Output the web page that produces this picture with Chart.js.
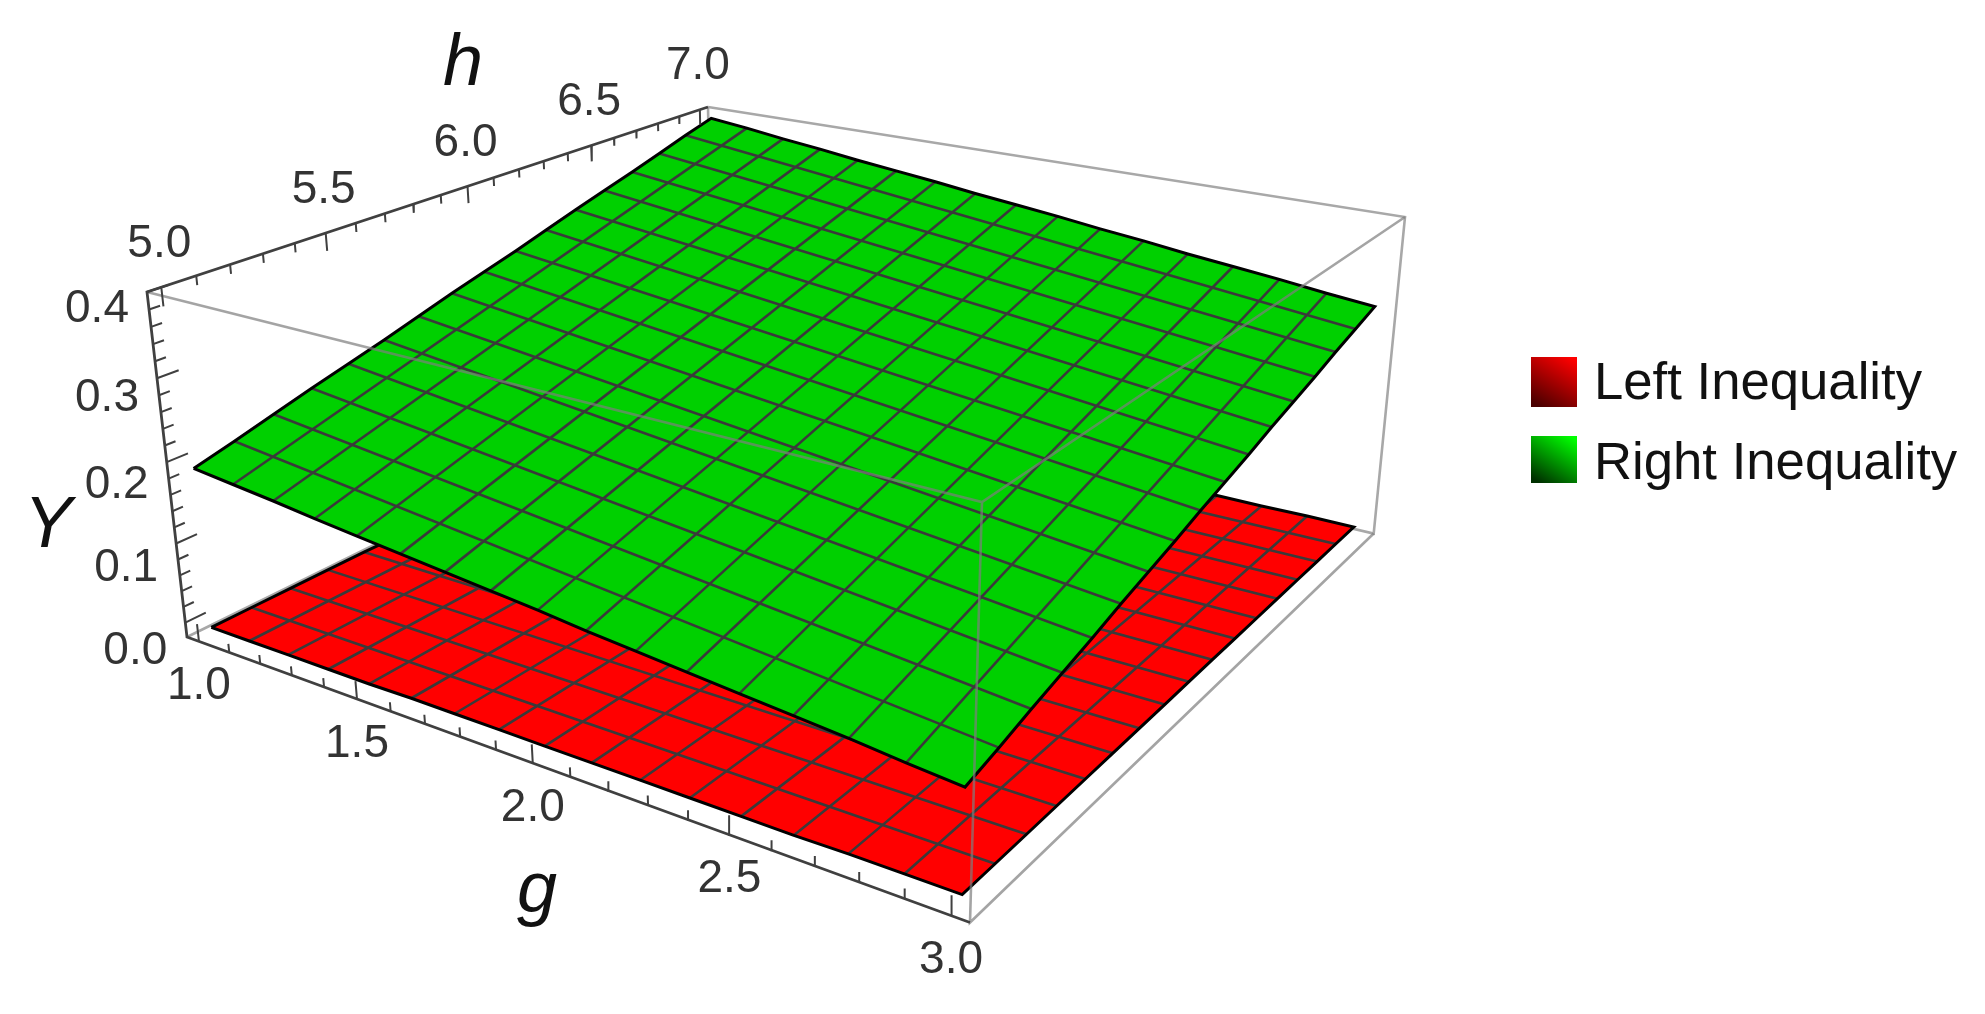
<!DOCTYPE html>
<html>
<head>
<meta charset="utf-8">
<title>Left and Right Inequality</title>
<script src="https://cdn.jsdelivr.net/npm/chart.js@4"></script>
<style>
  html, body { margin: 0; padding: 0; background: #fff; }
  canvas { display: block; filter: blur(0.6px); }
</style>
</head>
<body>
<canvas id="surfaceChart" width="1985" height="1014"></canvas>
<script>
// series names
var seriesNames = ['Left Inequality', 'Right Inequality'];

// mesh positions along both inputs
var meshG = [1, 1.125, 1.25, 1.375, 1.5, 1.625, 1.75, 1.875, 2, 2.125, 2.25, 2.375, 2.5, 2.625, 2.75, 2.875, 3];
var meshH = [5, 5.125, 5.25, 5.375, 5.5, 5.625, 5.75, 5.875, 6, 6.125, 6.25, 6.375, 6.5, 6.625, 6.75, 6.875, 7];

var greenAtH5 = [0.190, 0.185, 0.180, 0.174, 0.169, 0.164, 0.159, 0.154, 0.149, 0.143, 0.138, 0.133, 0.128, 0.123, 0.118, 0.112, 0.107];
var greenAtH7 = [0.390, 0.384, 0.377, 0.371, 0.364, 0.358, 0.352, 0.345, 0.339, 0.333, 0.326, 0.320, 0.313, 0.307, 0.301, 0.294, 0.288];
var greenAtG1 = [0.190, 0.202, 0.215, 0.228, 0.240, 0.252, 0.265, 0.278, 0.290, 0.302, 0.315, 0.328, 0.340, 0.352, 0.365, 0.378, 0.390];
var greenAtG3 = [0.107, 0.118, 0.130, 0.141, 0.152, 0.164, 0.175, 0.186, 0.198, 0.209, 0.220, 0.232, 0.243, 0.254, 0.266, 0.277, 0.288];
var redAtH5 = [-0.009, -0.009, -0.009, -0.009, -0.009, -0.008, -0.008, -0.008, -0.008, -0.008, -0.008, -0.008, -0.008, -0.008, -0.007, -0.007, -0.007];
var redAtH7 = [-0.011, -0.011, -0.011, -0.010, -0.010, -0.010, -0.010, -0.009, -0.009, -0.009, -0.009, -0.008, -0.008, -0.008, -0.008, -0.007, -0.007];
var redAtG1 = [-0.009, -0.009, -0.009, -0.009, -0.009, -0.010, -0.010, -0.010, -0.010, -0.010, -0.010, -0.010, -0.010, -0.011, -0.011, -0.011, -0.011];
var redAtG3 = [-0.007, -0.007, -0.007, -0.007, -0.007, -0.007, -0.007, -0.007, -0.007, -0.007, -0.007, -0.007, -0.007, -0.007, -0.007, -0.007, -0.007];

// tick values and labels
var gTicks = [1, 1.5, 2, 2.5, 3];
var hTicks = [5, 5.5, 6, 6.5, 7];
var yTicks = [0, 0.1, 0.2, 0.3, 0.4];
var gMinor = [1.1, 1.2, 1.3, 1.4, 1.6, 1.7, 1.8, 1.9, 2.1, 2.2, 2.3, 2.4, 2.6, 2.7, 2.8, 2.9];
var hMinor = [5.1, 5.2, 5.3, 5.4, 5.6, 5.7, 5.8, 5.9, 6.1, 6.2, 6.3, 6.4, 6.6, 6.7, 6.8, 6.9];
var yMinor = [0.02, 0.04, 0.06, 0.08, 0.12, 0.14, 0.16, 0.18, 0.22, 0.24, 0.26, 0.28, 0.32, 0.34, 0.36, 0.38];
var gLabels = ['1.0', '1.5', '2.0', '2.5', '3.0'];
var hLabels = ['5.0', '5.5', '6.0', '6.5', '7.0'];
var yLabels = ['0.0', '0.1', '0.2', '0.3', '0.4'];

// box limits
var gLo = 0.96, gHi = 3.04, hLo = 4.96, hHi = 7.04, yLo = -0.0186, yHi = 0.4;

// viewing projection of the unit box (across g, across h, down from the top)
var camera = [
    [616.63, 796.73, 51.78, 147],
    [98.37, -149.37, 385.13, 292],
    [-0.22237, 0.33295, 0.063, 1]
];

function project(g, h, y) {
    var v = [(g - gLo) / (gHi - gLo), (h - hLo) / (hHi - hLo), (yHi - y) / (yHi - yLo), 1];
    var r = camera.map(function(row) {
        return row[0] * v[0] + row[1] * v[1] + row[2] * v[2] + row[3] * v[3];
    });
    return { x: r[0] / r[2], y: r[1] / r[2] };
}

var GAP = { x: NaN, y: NaN };

// list of [g, h, y] pieces -> points with gaps between them
function pieces(list) {
    var out = [];
    list.forEach(function(piece) {
        piece.forEach(function(p) { out.push(project(p[0], p[1], p[2])); });
        out.push(GAP);
    });
    return out;
}

function outline(atH5, atH7, atG1, atG3) {
    var pts = [];
    meshG.forEach(function(g, i) { pts.push([g, 5, atH5[i]]); });
    meshH.forEach(function(h, i) { pts.push([3, h, atG3[i]]); });
    for (var i = meshG.length - 1; i >= 0; i--) pts.push([meshG[i], 7, atH7[i]]);
    for (var j = meshH.length - 1; j >= 0; j--) pts.push([1, meshH[j], atG1[j]]);
    return pts;
}

function mesh(atH5, atH7, atG1, atG3) {
    var list = [];
    for (var i = 1; i < meshG.length - 1; i++) {
        list.push([[meshG[i], 5, atH5[i]], [meshG[i], 7, atH7[i]]]);
        list.push([[1, meshH[i], atG1[i]], [3, meshH[i], atG3[i]]]);
    }
    return list;
}

function surface(atH5, atH7, atG1, atG3, color) {
    var edge = outline(atH5, atH7, atG1, atG3);
    return [
        { data: pieces([edge]).slice(0, -1), backgroundColor: color, fill: 'shape', borderColor: color, borderWidth: 0 },
        { data: pieces(mesh(atH5, atH7, atG1, atG3)), borderColor: '#3a3a3a', borderWidth: 2.6 },
        { data: pieces([edge]), borderColor: '#000', borderWidth: 3 }
    ];
}

function ticks(values, from, to) {
    return values.map(function(v) { return [from(v), to(v)]; });
}

var tickLines = []
    .concat(ticks(gTicks, function(g) { return [g, hLo, yLo]; }, function(g) { return [g, hLo, yLo + 0.022]; }))
    .concat(ticks(gMinor, function(g) { return [g, hLo, yLo]; }, function(g) { return [g, hLo, yLo + 0.011]; }))
    .concat(ticks(hTicks, function(h) { return [gLo, h, yHi]; }, function(h) { return [gLo, h, yHi - 0.022]; }))
    .concat(ticks(hMinor, function(h) { return [gLo, h, yHi]; }, function(h) { return [gLo, h, yHi - 0.011]; }))
    .concat(ticks(yTicks, function(y) { return [gLo, hLo, y]; }, function(y) { return [gLo, hLo + 0.062, y]; }))
    .concat(ticks(yMinor, function(y) { return [gLo, hLo, y]; }, function(y) { return [gLo, hLo + 0.031, y]; }));

// drawn bottom to top
var layers = [
    { data: pieces([
        [[gLo, hHi, yHi], [gHi, hHi, yHi], [gHi, hHi, yLo], [gLo, hHi, yLo], [gLo, hLo, yLo]],
        [[gLo, hHi, yHi], [gLo, hHi, yLo]]
    ]), borderColor: '#a8a8a8', borderWidth: 2.6 }
]
    .concat(surface(redAtH5, redAtH7, redAtG1, redAtG3, '#ff0000'))
    .concat(surface(greenAtH5, greenAtH7, greenAtG1, greenAtG3, '#00d000'))
    .concat([
        { data: pieces([
            [[gLo, hLo, yHi], [gHi, hLo, yHi], [gHi, hHi, yHi]],
            [[gHi, hLo, yHi], [gHi, hLo, yLo], [gHi, hHi, yLo]]
        ]), borderColor: 'rgba(125,125,125,0.7)', borderWidth: 2.6 },
        { data: pieces(tickLines), borderColor: '#404040', borderWidth: 2 },
        { data: pieces([
            [[gLo, hHi, yHi], [gLo, hLo, yHi], [gLo, hLo, yLo], [gHi, hLo, yLo]]
        ]), borderColor: '#404040', borderWidth: 2.8 }
    ]);

layers.forEach(function(d, i) {
    d.order = layers.length - i;
    d.showLine = true;
    d.pointRadius = 0;
    d.tension = 0;
    d.clip = false;
    if (d.fill === undefined) d.fill = false;
});

// tick labels, axis titles and the legend
var annotations = {
    id: 'annotations',
    afterDraw: function(chart) {
        var ctx = chart.ctx;
        var sx = chart.scales.x, sy = chart.scales.y;

        function label(text, p, dx, dy) {
            ctx.fillText(text, sx.getPixelForValue(p.x) + dx, sy.getPixelForValue(p.y) + dy);
        }

        ctx.save();
        ctx.textAlign = 'center';
        ctx.textBaseline = 'middle';
        ctx.fillStyle = '#333';
        ctx.font = '46px "Liberation Sans"';
        gTicks.forEach(function(g, i) { label(gLabels[i], project(g, hLo, yLo), 0, 45); });
        hTicks.forEach(function(h, i) { label(hLabels[i], project(gLo, h, yHi), -2, -43); });
        var yLabelDrop = [29, 25, 23, 20, 17];
        yTicks.forEach(function(y, i) { label(yLabels[i], project(gLo, hLo, y), -50, yLabelDrop[i]); });

        ctx.textBaseline = 'alphabetic';
        ctx.fillStyle = '#111';
        ctx.font = 'italic 72px "Liberation Sans"';
        ctx.fillText('h', 463, 85);
        ctx.fillText('g', 537, 912);
        ctx.fillText('Y', 48, 547);

        // legend
        var swatches = [
            { top: 357, bottom: 407, bright: '#ff0000', dark: '#4a0000', base: 399 },
            { top: 436, bottom: 483, bright: '#00ff00', dark: '#003000', base: 479 }
        ];
        ctx.textAlign = 'left';
        ctx.font = '52.7px "Liberation Sans"';
        swatches.forEach(function(s, i) {
            var grad = ctx.createLinearGradient(1570, s.top, 1540, s.bottom);
            grad.addColorStop(0, s.bright);
            grad.addColorStop(1, s.dark);
            ctx.fillStyle = grad;
            ctx.fillRect(1531, s.top, 46, s.bottom - s.top);
            ctx.fillStyle = '#111';
            ctx.fillText(seriesNames[i], 1594, s.base);
        });
        ctx.restore();
    }
};

var surfaceChart = new Chart(document.getElementById('surfaceChart').getContext('2d'), {
    type: 'scatter',
    data: { datasets: layers },
    options: {
        responsive: false,
        animation: false,
        events: [],
        layout: { padding: 0 },
        plugins: { legend: { display: false }, tooltip: { enabled: false } },
        scales: {
            x: { type: 'linear', display: false, min: 0, max: 1985 },
            y: { type: 'linear', display: false, min: 0, max: 1014, reverse: true }
        }
    },
    plugins: [annotations]
});
</script>
</body>
</html>
